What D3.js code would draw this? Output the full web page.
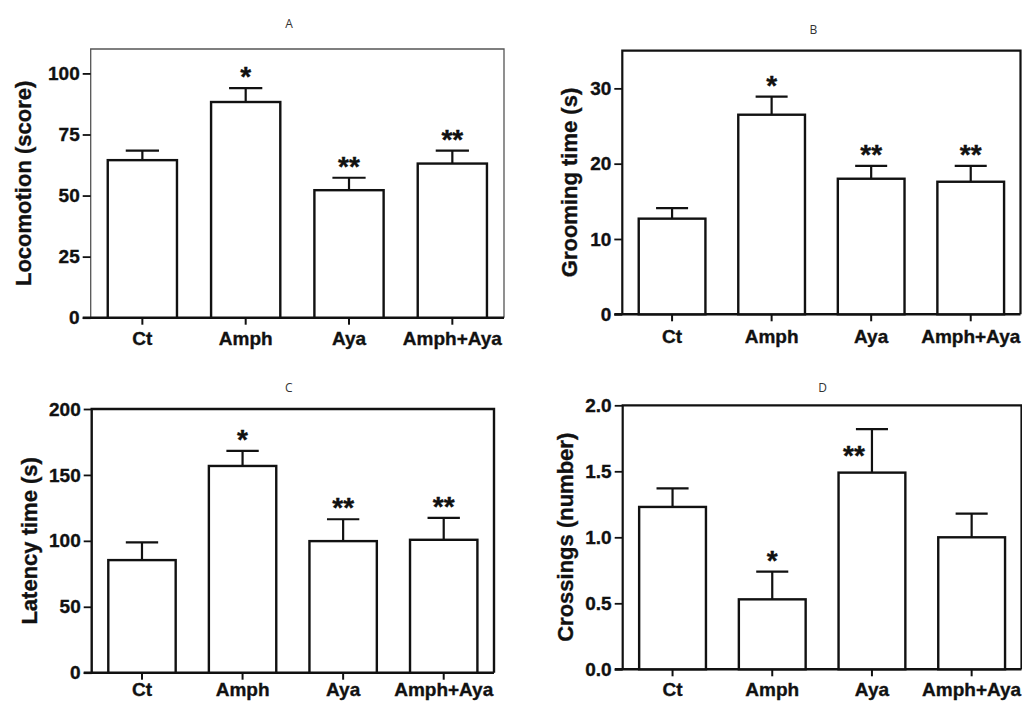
<!DOCTYPE html>
<html>
<head>
<meta charset="utf-8">
<script src="https://cdn.jsdelivr.net/npm/d3@7"></script>
<style>
  body { margin: 0; background: #fff; }
  svg { display: block; font-family: "Liberation Sans", Arial, sans-serif; }
</style>
</head>
<body>
<svg id="chart" width="1022" height="702"></svg>
<script>
////////////////////////////////////////////////////////////////////////////////
// Data (mean + SEM)
////////////////////////////////////////////////////////////////////////////////
const groups = ["Ct", "Amph", "Aya", "Amph+Aya"];

// A - locomotion
const locomotionMean = [64.5, 88.3, 52.2, 63.1];
const locomotionSem = [3.9, 5.7, 5.1, 5.3];
const locomotionStars = ["", "*", "**", "**"];
const locomotionTicks = [0, 25, 50, 75, 100];
const locomotionMax = 110;

// B - grooming
const groomingMean = [12.7, 26.5, 18.0, 17.6];
const groomingSem = [1.4, 2.4, 1.7, 2.1];
const groomingStars = ["", "*", "**", "**"];
const groomingTicks = [0, 10, 20, 30];
const groomingMax = 35;

// C - latency
const latencyMean = [85.4, 156.8, 99.8, 100.8];
const latencySem = [13.4, 11.4, 16.6, 16.6];
const latencyStars = ["", "*", "**", "**"];
const latencyTicks = [0, 50, 100, 150, 200];
const latencyMax = 200;

// D - crossings
const crossingsMean = [1.23, 0.53, 1.49, 1.00];
const crossingsSem = [0.14, 0.21, 0.33, 0.18];
const crossingsStars = ["", "*", "**", ""];
const crossingsTicks = [0, 0.5, 1.0, 1.5, 2.0];
const crossingsMax = 2;

////////////////////////////////////////////////////////////////////////////////
// Panel layout
////////////////////////////////////////////////////////////////////////////////
const panels = [
  {letter: "A", label: "Locomotion (score)", mean: locomotionMean, sem: locomotionSem,
   stars: locomotionStars, ticks: locomotionTicks, max: locomotionMax, fmt: d3.format("d"),
   left: 90.7, right: 504, top: 49, bottom: 317.7, titleX: 289, titleY: 23, labelX: 23,
   frameW: 1.3, frameColor: "#555", xLabelGap: 27},
  {letter: "B", label: "Grooming time (s)", mean: groomingMean, sem: groomingSem,
   stars: groomingStars, ticks: groomingTicks, max: groomingMax, fmt: d3.format("d"),
   left: 622.3, right: 1020.5, top: 50.7, bottom: 314.3, titleX: 813.3, titleY: 29.3, labelX: 569.3,
   frameW: 2.2, frameColor: "#111", xLabelGap: 29},
  {letter: "C", label: "Latency time (s)", mean: latencyMean, sem: latencySem,
   stars: latencyStars, ticks: latencyTicks, max: latencyMax, fmt: d3.format("d"),
   left: 91.7, right: 494, top: 409, bottom: 672.7, titleX: 288.7, titleY: 387.7, labelX: 29.3,
   frameW: 2.4, frameColor: "#111", xLabelGap: 23.5},
  {letter: "D", label: "Crossings (number)", mean: crossingsMean, sem: crossingsSem,
   stars: crossingsStars, ticks: crossingsTicks, max: crossingsMax, fmt: d3.format(".1f"),
   left: 622.7, right: 1021.5, top: 405.3, bottom: 669.3, titleX: 822.7, titleY: 387.7, labelX: 565,
   frameW: 2.2, frameColor: "#111", xLabelGap: 27,
   starNudge: {"Aya": {dx: -18, dy: 38}}}
];

const svg = d3.select("#chart");

// heavier look, like the blurry GraphPad export
function heavy(sel, size) {
  sel.attr("fill", "#111")
     .attr("stroke", "#111")
     .attr("stroke-width", 0.35)
     .style("font-size", size + "px")
     .style("font-weight", "bold");
}

function drawPanel(p) {
  const g = svg.append("g");

  const x = d3.scaleBand()
              .domain(groups)
              .range([p.left, p.right])
              .paddingInner(0.33)
              .paddingOuter(0.165);
  const y = d3.scaleLinear()
              .domain([0, p.max])
              .range([p.bottom, p.top]);

  // frame (top / left / right)
  g.append("path")
     .attr("d", `M${p.left},${p.bottom} V${p.top} H${p.right} V${p.bottom}`)
     .attr("fill", "none")
     .attr("stroke", p.frameColor)
     .attr("stroke-width", p.frameW);

  // Y axis
  const yAxis = g.append("g")
                   .attr("transform", `translate(${p.left},0)`)
                   .call(d3.axisLeft(y).tickValues(p.ticks).tickFormat(p.fmt).tickSize(8).tickPadding(3));
  yAxis.select(".domain").remove();
  yAxis.selectAll(".tick line").attr("stroke", "#111").attr("stroke-width", 1.8);
  yAxis.selectAll(".tick text").call(heavy, 19);

  // X axis
  const xAxis = g.append("g")
                   .attr("transform", `translate(0,${p.bottom})`)
                   .call(d3.axisBottom(x).tickSize(7).tickPadding(p.xLabelGap - 7 - 13.5));
  xAxis.select(".domain").remove();
  xAxis.selectAll(".tick line").attr("stroke", "#111").attr("stroke-width", 2);
  xAxis.selectAll(".tick text").call(heavy, 19);

  // bottom axis line, running under the y ticks
  g.append("line")
     .attr("x1", p.left - 8)
     .attr("x2", p.right)
     .attr("y1", p.bottom)
     .attr("y2", p.bottom)
     .attr("stroke", "#111")
     .attr("stroke-width", 2.4);

  const rows = groups.map(function(k, i) {
    return {group: k, mean: p.mean[i], sem: p.sem[i], star: p.stars[i]};
  });
  const bw = x.bandwidth();
  const cap = bw * 0.48;

  // error bars (upper only)
  g.selectAll(".err")
    .data(rows)
    .join("path")
      .attr("class", "err")
      .attr("fill", "none")
      .attr("stroke", "#111")
      .attr("stroke-width", 2.2)
      .attr("d", function(d) {
        const cx = x(d.group) + bw / 2;
        return `M${cx},${y(d.mean)} V${y(d.mean + d.sem)} M${cx - cap / 2},${y(d.mean + d.sem)} H${cx + cap / 2}`;
      });

  // bars
  g.selectAll(".bar")
    .data(rows)
    .join("rect")
      .attr("class", "bar")
      .attr("x", function(d) { return x(d.group); })
      .attr("y", function(d) { return y(d.mean); })
      .attr("width", bw)
      .attr("height", function(d) { return p.bottom - y(d.mean); })
      .attr("fill", "#fff")
      .attr("stroke", "#111")
      .attr("stroke-width", 2.4);

  // significance stars
  g.selectAll(".star")
    .data(rows.filter(function(d) { return d.star; }))
    .join("text")
      .attr("class", "star")
      .attr("x", function(d) {
        const n = p.starNudge && p.starNudge[d.group];
        return x(d.group) + bw / 2 + (n ? n.dx : 0);
      })
      .attr("y", function(d) {
        const n = p.starNudge && p.starNudge[d.group];
        return y(d.mean + d.sem) - 18 + (n ? n.dy : 0) + 16;
      })
      .attr("text-anchor", "middle")
      .call(heavy, 28)
      .text(function(d) { return d.star; });

  // y-axis title
  g.append("text")
     .attr("transform", `translate(${p.labelX},${(p.top + p.bottom) / 2}) rotate(-90)`)
     .attr("text-anchor", "middle")
     .attr("dominant-baseline", "central")
     .call(heavy, 22)
     .text(p.label);

  // panel letter
  g.append("text")
     .attr("x", p.titleX)
     .attr("y", p.titleY + 4.5)
     .attr("text-anchor", "middle")
     .style("font-family", "'Open Sans', sans-serif")
     .style("font-size", "12px")
     .attr("fill", "#333")
     .text(p.letter);
}

panels.forEach(drawPanel);
</script>
</body>
</html>
